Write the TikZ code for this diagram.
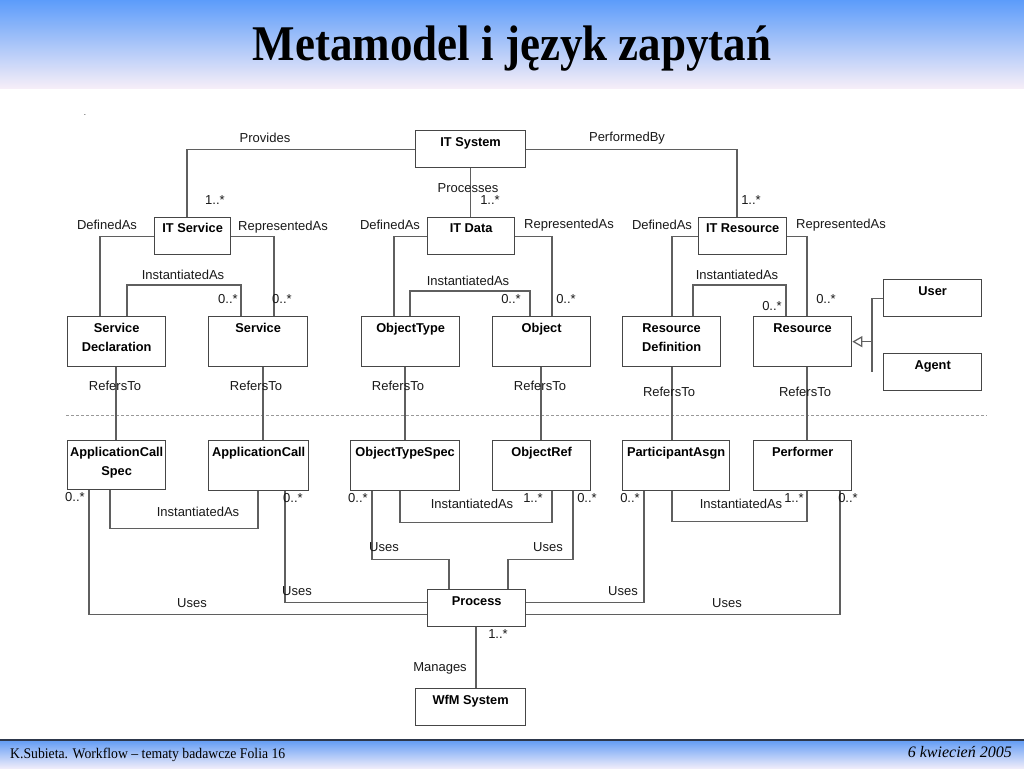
\documentclass[tikz,border=0pt]{standalone}
\usepackage{fontspec}
\setmainfont{Liberation Serif}
\setsansfont{Liberation Sans}
\usetikzlibrary{arrows.meta}
\definecolor{hdrtop}{RGB}{92,156,250}
\definecolor{hdrbot}{RGB}{246,238,248}
\definecolor{ftrtop}{RGB}{105,160,245}
\definecolor{ftrbot}{RGB}{238,236,250}
\definecolor{ftrline}{RGB}{45,55,75}
\definecolor{boxc}{RGB}{70,70,70}
\definecolor{linec}{RGB}{95,95,95}
\definecolor{txtc}{RGB}{25,25,25}
\tikzset{
 cls/.style={draw=boxc, line width=1.3pt, anchor=north west, inner sep=0pt, fill=white},
 cname/.style={anchor=north, inner sep=0pt, align=center, text=black, font=\sffamily\bfseries\fontsize{12.8pt}{19pt}\selectfont},
 rel/.style={draw=linec, line width=1.3pt},
 lbl/.style={inner sep=0pt, text=txtc, font=\sffamily\fontsize{13pt}{15pt}\selectfont},
}
\begin{document}
\begin{tikzpicture}[x=1pt,y=-1pt]
\useasboundingbox (0,0) rectangle (1024,768);
\fill[white] (0,0) rectangle (1024,768);
% header
\shade[top color=hdrtop, bottom color=hdrbot] (0,0) rectangle (1024,88);
\node[anchor=base, inner sep=0pt] (title) at (512,60) {\scalebox{1}[1.11]{\fontsize{45pt}{50pt}\selectfont\bfseries Metamodel i język zapytań}};
% footer
\fill[ftrline] (0,738.5) rectangle (1024,741.5);
\shade[top color=ftrtop, bottom color=ftrbot] (0,741.5) rectangle (1024,768);
\node[anchor=base west, inner sep=0pt] (ftl) at (10,758) {\scalebox{0.98}[1.05]{\fontsize{14pt}{16pt}\selectfont K.Subieta. Workflow – tematy badawcze Folia 16}};
\node[anchor=base east, inner sep=0pt] (ftr) at (1012,757) {\fontsize{16pt}{18pt}\selectfont\itshape 6 kwiecień 2005};
\node[lbl, font=\sffamily\fontsize{8pt}{8pt}\selectfont] (dot) at (85,115) {.};
% separator
\draw[draw=gray!80, line width=1pt, dash pattern=on 3pt off 2pt] (66,415) -- (987,415);

% boxes
\node[cls, minimum width=110pt, minimum height=37pt] (itsys) at (415,130) {};
\node[cls, minimum width=76pt, minimum height=37pt] (itsvc) at (154,217) {};
\node[cls, minimum width=87pt, minimum height=37pt] (itdata) at (427,217) {};
\node[cls, minimum width=88pt, minimum height=37pt] (itres) at (698,217) {};
\node[cls, minimum width=98pt, minimum height=50pt] (svcdecl) at (67,316) {};
\node[cls, minimum width=99pt, minimum height=50pt] (svc) at (208,316) {};
\node[cls, minimum width=98pt, minimum height=50pt] (otype) at (361,316) {};
\node[cls, minimum width=98pt, minimum height=50pt] (obj) at (492,316) {};
\node[cls, minimum width=98pt, minimum height=50pt] (resdef) at (622,316) {};
\node[cls, minimum width=98pt, minimum height=50pt] (res) at (753,316) {};
\node[cls, minimum width=98pt, minimum height=37pt] (user) at (883,279) {};
\node[cls, minimum width=98pt, minimum height=37pt] (agent) at (883,353) {};
\node[cls, minimum width=98pt, minimum height=49pt] (appspec) at (67,440) {};
\node[cls, minimum width=100pt, minimum height=50pt] (appcall) at (208,440) {};
\node[cls, minimum width=109pt, minimum height=50pt] (otspec) at (350,440) {};
\node[cls, minimum width=98pt, minimum height=50pt] (oref) at (492,440) {};
\node[cls, minimum width=107pt, minimum height=50pt] (pasgn) at (622,440) {};
\node[cls, minimum width=98pt, minimum height=50pt] (perf) at (753,440) {};
\node[cls, minimum width=98pt, minimum height=37pt] (proc) at (427,589) {};
\node[cls, minimum width=110pt, minimum height=37pt] (wfm) at (415,688) {};

% box names
\node[cname] (itsysT) at ([yshift=-7pt]itsys.north) {IT System};
\node[cname] (itsvcT) at ([yshift=-6.5pt]itsvc.north) {IT Service};
\node[cname] (itdataT) at ([yshift=-6.5pt]itdata.north) {IT Data};
\node[cname] (itresT) at ([yshift=-6.5pt]itres.north) {IT Resource};
\node[cname] (svcdeclT) at ([yshift=-7.4pt]svcdecl.north) {Service\\Declaration};
\node[cname] (svcT) at ([yshift=-7.4pt]svc.north) {Service};
\node[cname] (otypeT) at ([yshift=-7.4pt]otype.north) {ObjectType};
\node[cname] (objT) at ([yshift=-7.4pt]obj.north) {Object};
\node[cname] (resdefT) at ([yshift=-7.4pt]resdef.north) {Resource\\Definition};
\node[cname] (resT) at ([yshift=-7.4pt]res.north) {Resource};
\node[cname] (userT) at ([yshift=-7.4pt]user.north) {User};
\node[cname] (agentT) at ([yshift=-7.4pt]agent.north) {Agent};
\node[cname] (appspecT) at ([yshift=-7.4pt]appspec.north) {ApplicationCall\\Spec};
\node[cname] (appcallT) at ([yshift=-7.4pt]appcall.north) {ApplicationCall};
\node[cname] (otspecT) at ([yshift=-7.4pt]otspec.north) {ObjectTypeSpec};
\node[cname] (orefT) at ([yshift=-7.4pt]oref.north) {ObjectRef};
\node[cname] (pasgnT) at ([yshift=-7.4pt]pasgn.north) {ParticipantAsgn};
\node[cname] (perfT) at ([yshift=-7.4pt]perf.north) {Performer};
\node[cname] (procT) at ([yshift=-7.4pt]proc.north) {Process};
\node[cname] (wfmT) at ([yshift=-7.4pt]wfm.north) {WfM System};

% connectors top
\draw[rel] (itsys.west) -| ([xshift=33pt]itsvc.north west);
\draw[rel] (itsys.east) -| ([xshift=39pt]itres.north west);
\draw[rel] (itsys.south) -- (itsys.south |- itdata.north);
\draw[rel] (itsvc.west) -| ([xshift=33pt]svcdecl.north west);
\draw[rel] (itsvc.east) -| ([xshift=66pt]svc.north west);
\draw[rel] ([xshift=60pt]svcdecl.north west) -- ++(0,-31) -| ([xshift=33pt]svc.north west);
\draw[rel] (itdata.west) -| ([xshift=33pt]otype.north west);
\draw[rel] (itdata.east) -| ([xshift=60pt]obj.north west);
\draw[rel] ([xshift=49pt]otype.north west) -- ++(0,-25) -| ([xshift=38pt]obj.north west);
\draw[rel] (itres.west) -| ([xshift=50pt]resdef.north west);
\draw[rel] (itres.east) -| ([xshift=54pt]res.north west);
\draw[rel] ([xshift=71pt]resdef.north west) -- ++(0,-31) -| ([xshift=33pt]res.north west);
% generalization
\draw[rel] (user.west) -- ++(-11,0) coordinate (gtop) -- ++(0,73.5) coordinate (gbot);
\coordinate (gmid) at (gtop |- res.east);
\draw[rel, -{Triangle[open, length=10pt, width=11pt, line width=1.2pt]}] (gmid) -- (res.east);
% refers to
\draw[rel] ([xshift=49pt]svcdecl.south west) -- ([xshift=49pt]appspec.north west);
\draw[rel] ([xshift=55pt]svc.south west) -- ([xshift=55pt]appcall.north west);
\draw[rel] ([xshift=44pt]otype.south west) -- ([xshift=55pt]otspec.north west);
\draw[rel] ([xshift=49pt]obj.south west) -- ([xshift=49pt]oref.north west);
\draw[rel] ([xshift=50pt]resdef.south west) -- ([xshift=50pt]pasgn.north west);
\draw[rel] ([xshift=54pt]res.south west) -- ([xshift=54pt]perf.north west);
% bottom instantiated
\draw[rel] ([xshift=43pt]appspec.south west) -- ++(0,38) -| ([xshift=50pt]appcall.south west);
\draw[rel] ([xshift=50pt]otspec.south west) -- ++(0,31) -| ([xshift=60pt]oref.south west);
\draw[rel] ([xshift=50pt]pasgn.south west) -- ++(0,30) -| ([xshift=54pt]perf.south west);
% uses
\draw[rel] ([xshift=22pt]appspec.south west) |- ([yshift=-6.5pt]proc.west);
\draw[rel] ([xshift=77pt]appcall.south west) |- ([yshift=5.5pt]proc.west);
\draw[rel] ([xshift=22pt]otspec.south west) -- ++(0,68) -| ([xshift=22pt]proc.north west);
\draw[rel] ([xshift=81pt]oref.south west) -- ++(0,68) -| ([xshift=81pt]proc.north west);
\draw[rel] ([xshift=22pt]pasgn.south west) |- ([yshift=5.5pt]proc.east);
\draw[rel] ([xshift=87pt]perf.south west) |- ([yshift=-6.5pt]proc.east);
\draw[rel] ([xshift=49pt]proc.south west) -- ([xshift=61pt]wfm.north west);

% labels
\node[lbl] (l1) at (265,138) {Provides};
\node[lbl] (l2) at (627,138) {PerformedBy};
\node[lbl] (l3) at (468,188) {Processes};
\node[lbl] (m1) at (215,200) {1..*};
\node[lbl] (m2) at (490,200) {1..*};
\node[lbl] (m3) at (751,200) {1..*};
\node[lbl] (d1) at (107,225) {DefinedAs};
\node[lbl] (d2) at (390,225) {DefinedAs};
\node[lbl] (d3) at (662,225) {DefinedAs};
\node[lbl] (r1) at (283,227) {RepresentedAs};
\node[lbl] (r2) at (569,225) {RepresentedAs};
\node[lbl] (r3) at (841,225) {RepresentedAs};
\node[lbl] (i1) at (183,275) {InstantiatedAs};
\node[lbl] (i2) at (468,281) {InstantiatedAs};
\node[lbl] (i3) at (737,275) {InstantiatedAs};
\node[lbl] (m4) at (228,299) {0..*};
\node[lbl] (m5) at (282,299) {0..*};
\node[lbl] (m6) at (511,299) {0..*};
\node[lbl] (m7) at (566,299) {0..*};
\node[lbl] (m8) at (772,306) {0..*};
\node[lbl] (m9) at (826,299) {0..*};
\node[lbl] (f1) at (115,386) {RefersTo};
\node[lbl] (f2) at (256,386) {RefersTo};
\node[lbl] (f3) at (398,386) {RefersTo};
\node[lbl] (f4) at (540,386) {RefersTo};
\node[lbl] (f5) at (669,392) {RefersTo};
\node[lbl] (f6) at (805,392) {RefersTo};
\node[lbl] (b1) at (75,497) {0..*};
\node[lbl] (b2) at (293,498) {0..*};
\node[lbl] (b3) at (358,498) {0..*};
\node[lbl] (b4) at (533,498) {1..*};
\node[lbl] (b5) at (587,498) {0..*};
\node[lbl] (b6) at (630,498) {0..*};
\node[lbl] (b7) at (794,498) {1..*};
\node[lbl] (b8) at (848,498) {0..*};
\node[lbl] (bi1) at (198,512) {InstantiatedAs};
\node[lbl] (bi2) at (472,504) {InstantiatedAs};
\node[lbl] (bi3) at (741,504) {InstantiatedAs};
\node[lbl] (u1) at (192,603) {Uses};
\node[lbl] (u2) at (297,591) {Uses};
\node[lbl] (u3) at (384,547) {Uses};
\node[lbl] (u4) at (548,547) {Uses};
\node[lbl] (u5) at (623,591) {Uses};
\node[lbl] (u6) at (727,603) {Uses};
\node[lbl] (mg) at (440,668) {Manages};
\node[lbl] (mg1) at (498,634) {1..*};
\end{tikzpicture}
\end{document}
